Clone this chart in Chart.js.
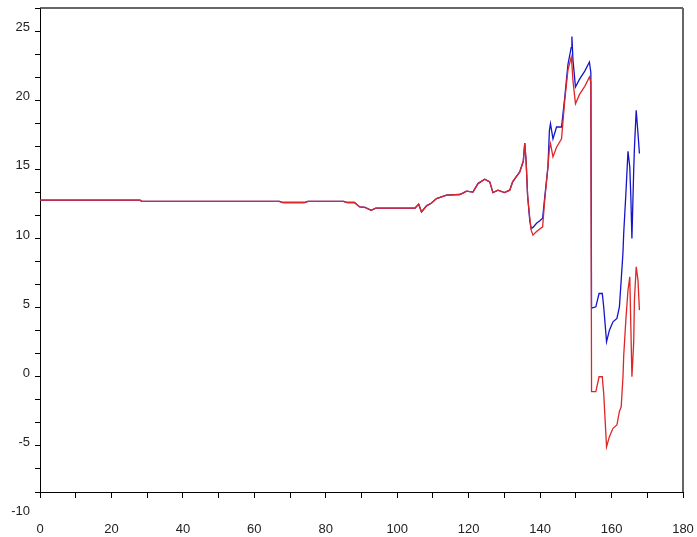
<!DOCTYPE html>
<html>
<head>
<meta charset="utf-8">
<script src="https://cdn.jsdelivr.net/npm/chart.js@4/dist/chart.umd.min.js"></script>
<style>
  html, body { margin: 0; padding: 0; background: #fff; }
  #c { display: block; }
</style>
</head>
<body>
<canvas id="c" width="697" height="537"></canvas>
<script>
// Sample positions along the horizontal axis
const xValues = [
  0, 28, 28.5, 67, 68, 74, 75, 85, 86, 88,
  89.5, 91, 92.7, 94, 105, 106, 106.8, 108.2, 109.5, 111,
  113.8, 117.5, 118.5, 119.4, 121.2, 122.6, 124.5, 125.9, 126.8, 128.2,
  130, 131.5, 132.3, 134.3, 135.3, 135.7, 136.1, 136.5,
  137.1, 137.5, 138, 139, 140, 140.7, 141.3, 142.2, 142.6, 142.9,
  143.6, 144.6, 146, 146.9, 147.8, 148.7, 148.9, 149.2, 149.9, 151,
  152.5, 153.8, 154.2, 154.4, 155.6, 156.5, 157.4, 157.8, 158.6, 159.4,
  160.4, 161.5, 162.2, 162.7, 163.2, 163.4, 164, 164.6, 165.1, 165.4,
  165.7, 166.2, 166.4, 166.9, 167.4, 167.8
];

// Blue series
const blueValues = [
  12.77, 12.77, 12.69, 12.69, 12.6, 12.6, 12.69, 12.69, 12.6, 12.6,
  12.28, 12.25, 12.04, 12.2, 12.2, 12.48, 11.92, 12.36, 12.55, 12.89,
  13.13, 13.18, 13.3, 13.42, 13.35, 13.97, 14.28, 14.09, 13.32, 13.49,
  13.32, 13.49, 14.09, 14.81, 15.6, 16.9, 15.5, 13.1,
  11.3, 10.72, 10.8, 11.1, 11.3, 11.47, 13.0, 15.2, 17.8, 18.3,
  17.2, 18.06, 18.06, 20.2, 22.6, 23.8, 24.6, 22.9, 20.95, 21.5,
  22.1, 22.76, 22.0, 4.96, 5.06, 6.02, 6.02, 5.06, 2.53, 3.37,
  3.97, 4.22, 5.06, 6.99, 9.0, 10.36, 13.2, 16.3, 15.17, 13.0,
  10.0, 14.93, 16.5, 19.27, 17.59, 16.14
];

// Red series
const redValues = [
  12.77, 12.77, 12.69, 12.69, 12.6, 12.6, 12.69, 12.69, 12.6, 12.6,
  12.28, 12.25, 12.04, 12.2, 12.2, 12.48, 11.92, 12.36, 12.55, 12.89,
  13.13, 13.18, 13.3, 13.42, 13.35, 13.97, 14.28, 14.09, 13.32, 13.49,
  13.32, 13.49, 14.09, 14.81, 15.6, 16.9, 15.5, 13.1,
  11.5, 10.6, 10.24, 10.5, 10.7, 10.84, 12.8, 15.2, 16.5, 16.86,
  15.9, 16.6, 17.2, 20.0, 22.2, 23.1, 22.6, 21.4, 19.75, 20.4,
  21.0, 21.68, 21.3, -1.08, -1.08, 0, 0, -1.2, -5.06, -4.33,
  -3.73, -3.49, -2.5, -2.17, 0, 1.5, 4.1, 6.26, 7.23, 3.6,
  0.0, 2.5, 5.54, 7.95, 6.99, 4.82
];

// Axis tick labels
const xTickLabels = [0, 20, 40, 60, 80, 100, 120, 140, 160, 180];
const yTickLabels = [-10, -5, 0, 5, 10, 15, 20, 25];

const X_MIN = 0, X_MAX = 180, X_MINOR = 10;
const Y_MIN = -25 / 3, Y_MAX = 80 / 3, Y_MINOR = 5 / 3;

const TICK_FONT = { family: "'Liberation Sans', Arial, sans-serif", size: 13 };
const TICK_COLOR = '#222';
const Y_LABEL_SHIFT = -3.5;
const Y_TICK_LEN = 5;
const Y_TICK_PAD = 5;

function toPoints(xs, ys) {
  return xs.map((x, i) => ({ x: x, y: ys[i] }));
}

function isLabelled(v, list) {
  return list.some(t => Math.abs(t - v) < 1e-6);
}

// Frame lines on top and right, plus y labels that fall below the axis range
const framePlugin = {
  id: 'frame',
  afterDraw(chart) {
    const { ctx, chartArea: a } = chart;
    const ys = chart.scales.y;
    ctx.save();
    ctx.strokeStyle = '#333';
    ctx.lineWidth = 1.5;
    ctx.beginPath();
    ctx.moveTo(a.left, a.top);
    ctx.lineTo(a.right, a.top);
    ctx.stroke();
    ctx.strokeStyle = '#666';
    ctx.lineWidth = 2;
    ctx.beginPath();
    ctx.moveTo(a.right, a.top);
    ctx.lineTo(a.right, a.bottom);
    ctx.stroke();

    ctx.fillStyle = TICK_COLOR;
    ctx.font = TICK_FONT.size + 'px ' + TICK_FONT.family;
    ctx.textAlign = 'right';
    ctx.textBaseline = 'middle';
    yTickLabels.forEach(v => {
      if (v < ys.min - 1e-6 || v > ys.max + 1e-6) {
        const py = ys.getPixelForValue(v) + Y_LABEL_SHIFT;
        ctx.fillText(String(v), ys.right - Y_TICK_LEN - Y_TICK_PAD, py);
      }
    });
    ctx.restore();
  }
};

new Chart(document.getElementById('c'), {
  type: 'line',
  data: {
    datasets: [
      {
        label: 'red',
        data: toPoints(xValues, redValues),
        borderColor: 'rgb(222,38,38)',
        borderWidth: 1.3,
        pointRadius: 0,
        tension: 0,
        order: 0
      },
      {
        label: 'blue',
        data: toPoints(xValues, blueValues),
        borderColor: 'rgb(20,20,205)',
        borderWidth: 1.3,
        pointRadius: 0,
        tension: 0,
        order: 1
      }
    ]
  },
  options: {
    responsive: false,
    animation: false,
    layout: { padding: { top: 8, right: 14, left: 0, bottom: 0 } },
    plugins: { legend: { display: false }, tooltip: { enabled: false } },
    scales: {
      x: {
        type: 'linear',
        min: X_MIN,
        max: X_MAX,
        afterBuildTicks(scale) {
          const t = [];
          for (let v = X_MIN; v <= X_MAX + 1e-6; v += X_MINOR) t.push({ value: v });
          scale.ticks = t;
        },
        afterFit(scale) {
          scale.height = 45;
          scale.paddingLeft = 0;
          scale.paddingRight = 0;
        },
        grid: { drawOnChartArea: false, drawTicks: true, tickLength: 6, tickColor: '#000' },
        border: { display: true, color: '#000', width: 1 },
        ticks: {
          autoSkip: false,
          maxRotation: 0,
          padding: 24,
          font: TICK_FONT,
          color: TICK_COLOR,
          callback: v => isLabelled(v, xTickLabels) ? String(Math.round(v)) : ''
        }
      },
      y: {
        type: 'linear',
        min: Y_MIN,
        max: Y_MAX,
        afterBuildTicks(scale) {
          const t = [];
          for (let i = 0; Y_MIN + i * Y_MINOR <= Y_MAX + 1e-6; i++) t.push({ value: Y_MIN + i * Y_MINOR });
          scale.ticks = t;
        },
        afterFit(scale) {
          scale.width = 40;
          scale.paddingTop = 0;
          scale.paddingBottom = 0;
        },
        grid: { drawOnChartArea: false, drawTicks: true, tickLength: Y_TICK_LEN, tickColor: '#000' },
        border: { display: true, color: '#000', width: 1 },
        ticks: {
          autoSkip: false,
          padding: Y_TICK_PAD,
          labelOffset: Y_LABEL_SHIFT,
          font: TICK_FONT,
          color: TICK_COLOR,
          callback: v => {
            const m = yTickLabels.find(t => Math.abs(t - v) < 1e-6);
            return m === undefined ? '' : String(m);
          }
        }
      }
    }
  },
  plugins: [framePlugin]
});
</script>
</body>
</html>
